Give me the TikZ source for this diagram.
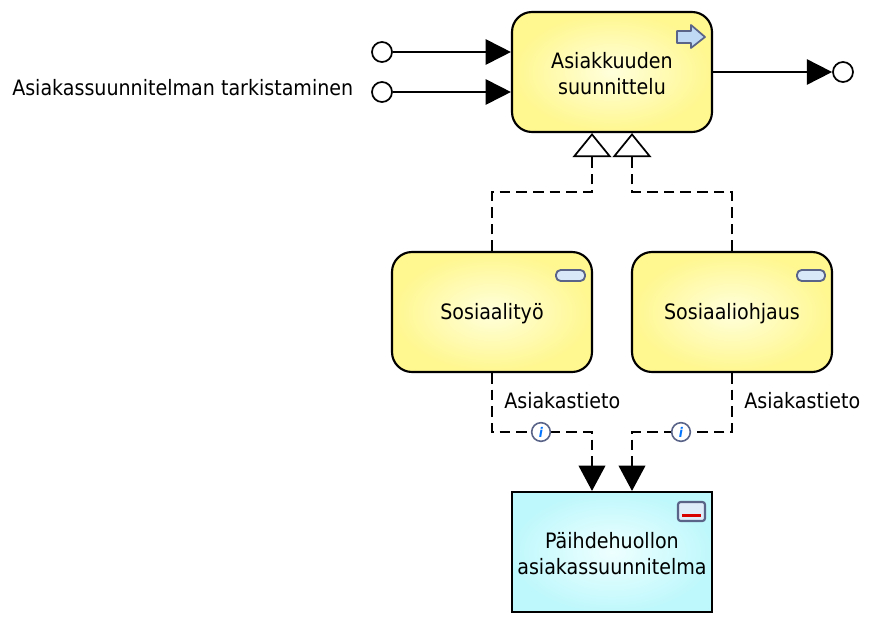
\documentclass[tikz,border=0pt]{standalone}
\usepackage{fontspec}
\setmainfont{DejaVu Sans Condensed}
\usetikzlibrary{arrows.meta,calc,shadings}
\definecolor{yellowout}{HTML}{FFF78F}
\definecolor{yellowin}{HTML}{FFFFDC}
\definecolor{cyanout}{HTML}{BFF8FC}
\definecolor{cyanin}{HTML}{EEFFFF}
\definecolor{iconblue}{HTML}{BFD9F5}
\definecolor{iconedge}{HTML}{5A6488}
\newcommand{\lowerline}{\rule{0pt}{15pt}}
\tikzset{
  x=0.75pt,y=-0.75pt,
  lbl/.style={font=\fontsize{15.9pt}{19.5pt}\selectfont,text=black,align=center,inner sep=0pt},
  fnbox/.style={draw=black,line width=1.6pt,rounded corners=15pt,minimum width=150pt,minimum height=90pt,inner sep=0pt,
     inner color=yellowin,outer color=yellowout,lbl},
  objbox/.style={draw=black,line width=1.6pt,minimum width=150pt,minimum height=90pt,inner sep=0pt,
     inner color=cyanin,outer color=cyanout,lbl},
  port/.style={circle,draw=black,line width=1.3pt,fill=white,minimum size=15pt,inner sep=0pt},
  flowline/.style={draw=black,line width=1.4pt,-{Triangle[length=19pt,width=19pt,fill=black]}},
  realize/.style={draw=black,line width=1.4pt,dash pattern=on 8pt off 4.5pt,-{Triangle[open,length=18pt,width=29pt,fill=white,line width=1.3pt]}},
  access/.style={draw=black,line width=1.4pt,dash pattern=on 8pt off 4.5pt,-{Triangle[length=19pt,width=20pt,fill=black]}},
  infoicon/.style={circle,draw=iconedge,line width=1.2pt,fill=white,minimum size=14pt,inner sep=0pt,
     text=blue!55!cyan,font=\fontsize{10pt}{10pt}\bfseries\itshape\selectfont},
  pill/.style={draw=iconedge,line width=1.4pt,rounded corners=3.5pt,fill=iconblue!60!white},
}
\begin{document}
\begin{tikzpicture}
\useasboundingbox (0,0) rectangle (869,625);
\node[fnbox] (asia) at (612,72) {\lowerline Asiakkuuden\\suunnittelu};
\node[fnbox] (sos) at (492,312) {\lowerline Sosiaalityö};
\node[fnbox] (ohj) at (732,312) {\lowerline Sosiaaliohjaus};
\node[objbox] (paih) at (612,552) {\lowerline Päihdehuollon\\asiakassuunnitelma};
\node[port] (p1) at (382,52) {};
\node[port] (p2) at (382,92) {};
\node[port] (p3) at (843,72) {};
\node[lbl,anchor=west] (tark) at (12,88) {Asiakassuunnitelman tarkistaminen};
\draw[flowline] (p1) -- (p1 -| asia.west);
\draw[flowline] (p2) -- (p2 -| asia.west);
\draw[flowline] (p3 -| asia.east) -- (p3);
\coordinate (aL) at ([xshift=-15pt]asia.south);
\coordinate (aR) at ([xshift=15pt]asia.south);
\coordinate (dL) at ([xshift=-15pt]paih.north);
\coordinate (dR) at ([xshift=15pt]paih.north);
\coordinate (m1) at (492,192);
\coordinate (m2) at (732,192);
\coordinate (m3) at (492,432);
\coordinate (m4) at (732,432);
\draw[realize] (sos.north) -- (m1) -| (aL);
\draw[realize] (ohj.north) -- (m2) -| (aR);
\draw[access] (sos.south) -- (m3) -| (dL);
\draw[access] (ohj.south) -- (m4) -| (dR);
\node[infoicon] (i1) at (541,432) {i};
\node[infoicon] (i2) at (681,432) {i};
\node[lbl,anchor=west] (l1) at (504,401) {Asiakastieto};
\node[lbl,anchor=west] (l2) at (744,401) {Asiakastieto};
% icons
\draw[iconedge,line width=1.3pt,fill=iconblue,line join=round] (677,31)--(691,31)--(691,25)--(705,37)--(691,48)--(691,43)--(677,43)--cycle;
\draw[pill] (556,270) rectangle (585,281);
\draw[pill] (797,270) rectangle (825,281);
\draw[iconedge,line width=1.6pt,rounded corners=2pt,fill=iconblue!50!white] (678,502) rectangle (705,521);
\fill[red!85!black] (682,513.5) rectangle (701,516.5);
\end{tikzpicture}
\end{document}
